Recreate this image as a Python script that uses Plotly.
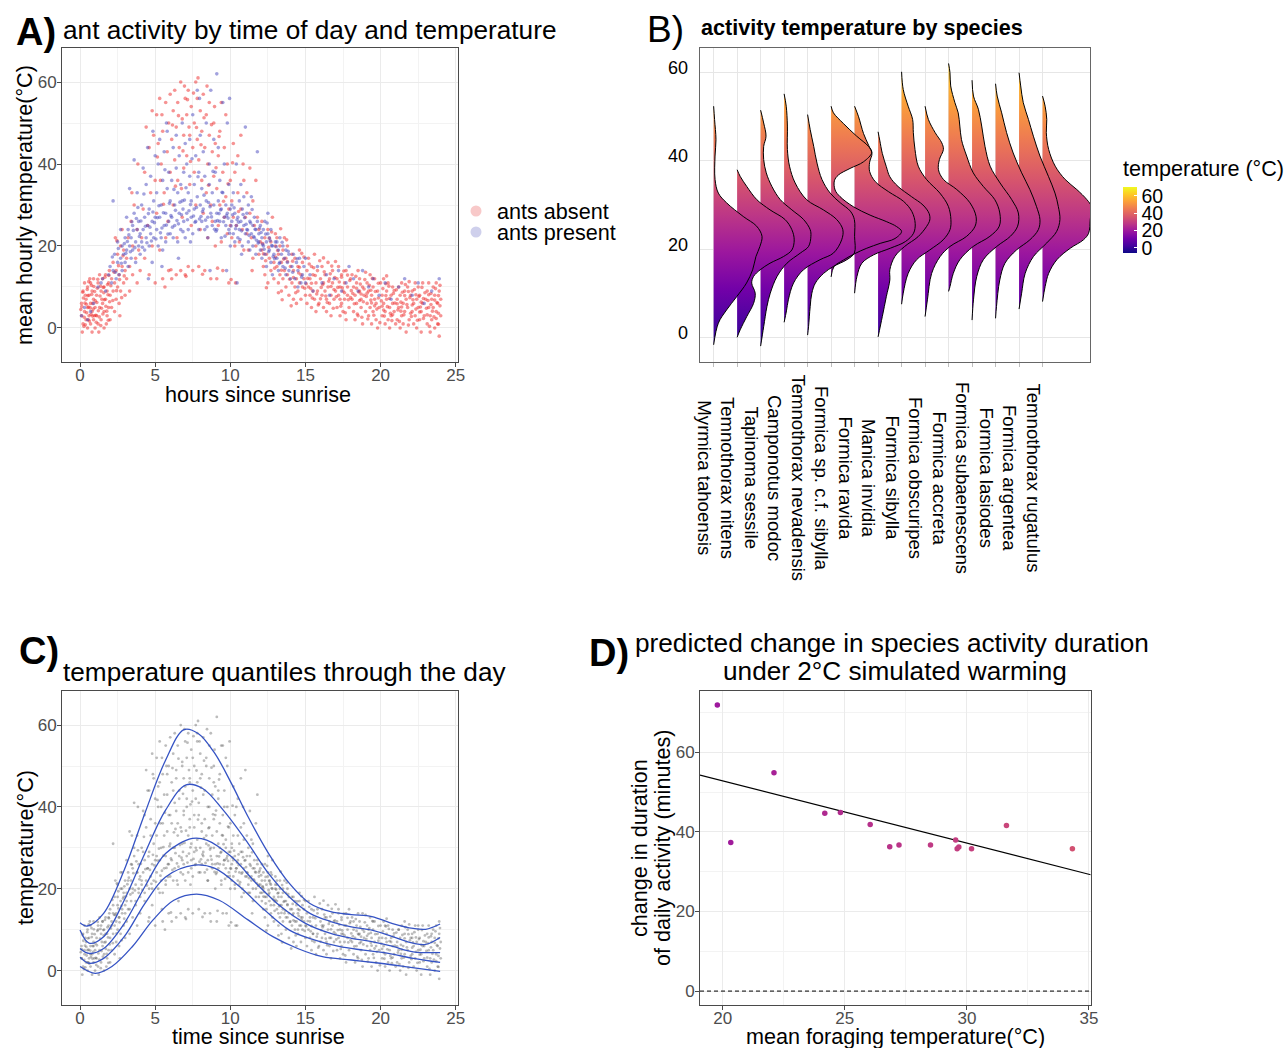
import numpy as np
import plotly.graph_objects as go
from plotly.colors import sample_colorscale

OFF = 0                      # body margin removed by post_script below
W, H = 1288, 1048
FONT = "Liberation Sans, Arial, Helvetica, sans-serif"

# ---------------- Panel A / C : hourly observations (hours since sunrise, temperature) -------------
absent_obs = [
    (0.1,3),(0.1,6),(0.2,1),(0.2,9),(0.3,4),(0.3,11),(0.4,2),(0.4,7),(0.5,0),(0.5,5),(0.5,10),(0.6,3),
    (0.6,8),(0.7,1),(0.7,6),(0.7,11),(0.8,-1),(0.8,4),(0.8,9),(0.9,2),(0.9,7),(0.9,12),(1.0,0),(1.0,5),
    (0.15,-1),(0.35,8),(0.55,2),(0.65,12),(0.85,6),(0.95,3),
    (0.05,4.5),(0.22,7.3),(0.28,2.6),(0.42,5.8),(0.48,9.4),(0.62,1.7),(0.68,4.9),(0.78,8.2),(0.83,2.9),
    (0.92,10.1),(1.02,6.6),(1.08,1.4),(1.15,9.7),(1.22,4.2),(1.33,7.8),(1.38,0.6),(1.52,3.4),(1.58,8.6),
    (1.66,12.4),(1.72,5.3),(1.83,10.6),(1.88,1.9),(1.97,6.4),(0.35,0.8),(0.58,11.3),
    (0.12,5.2),(0.18,8.7),(0.26,0.4),(0.33,6.1),(0.44,3.7),(0.52,7.9),(0.57,5.1),(0.73,3.3),(0.76,10.4),
    (0.88,4.6),(0.97,8.9),(1.05,3.1),(1.12,6.2),(1.18,11.9),(1.28,2.7),(1.36,10.2),(1.43,4.8),(1.55,9.9),
    (1.62,6.9),(1.78,4.1),(1.86,8.1),(1.92,12.8),
    (1.1,3),(1.1,8),(1.2,1),(1.2,11),(1.3,5),(1.3,13),(1.4,2),(1.4,9),(1.5,6),(1.5,12),(1.6,0),(1.6,4),
    (1.6,10),(1.7,7),(1.7,13),(1.8,3),(1.8,9),(1.9,5),(1.9,11),(2.0,2),(2.0,8),(1.25,-1),(1.45,7),(1.75,1),(1.95,14),
    (2.1,5),(2.1,12),(2.2,9),(2.2,16),(2.3,4),(2.3,11),(2.4,7),(2.4,14),(2.5,10),(2.5,18),(2.6,6),(2.6,13),
    (2.7,20),(2.7,9),(2.8,15),(2.8,24),(2.9,11),(2.9,19),(3.0,8),(3.0,14),(2.35,22),(2.65,3),
    (2.05,10.3),(2.18,6.7),(2.27,13.6),(2.43,9.1),(2.56,15.2),(2.63,11.8),(2.77,7.4),(2.86,17.6),(2.94,12.7),(2.45,21.3),
    (3.1,12),(3.1,17),(3.2,22),(3.3,9),(3.3,15),(3.4,26),(3.5,13),(3.5,20),(3.6,30),(3.7,17),(3.8,11),
    (3.8,24),(3.9,19),(4.0,14),(3.45,33),(3.85,40),
    (4.1,22),(4.2,29),(4.3,17),(4.3,38),(4.4,49),(4.5,25),(4.6,13),(4.6,44),(4.7,33),(4.8,20),(4.8,53),
    (4.9,47),(5.0,11),(5.0,36),
    (5.1,28),(5.1,52),(5.2,45),(5.3,19),(5.3,56),(5.4,40),(5.5,12),(5.5,48),(5.6,33),(5.7,55),(5.7,22),
    (5.8,43),(5.9,50),(5.9,14),(6.0,38),(6.0,57),(5.35,36),(5.65,10),(5.85,26),(5.45,52),
    (6.1,46),(6.1,12),(6.2,53),(6.2,30),(6.3,41),(6.3,58),(6.4,13),(6.4,49),(6.5,36),(6.5,55),(6.6,44),
    (6.7,60),(6.7,14),(6.8,51),(6.8,27),(6.9,39),(6.9,47),(7.0,56),(7.0,13),(6.45,22),(6.75,34),(6.95,59),
    (7.1,42),(7.1,52),(7.2,15),(7.2,58),(7.3,35),(7.3,47),(7.4,54),(7.4,25),(7.5,44),(7.5,14),(7.6,50),
    (7.6,38),(7.7,60),(7.7,30),(7.8,46),(7.8,56),(7.9,15),(7.9,41),(8.0,53),(8.0,24),(7.25,49),(7.85,61),
    (8.1,36),(8.1,48),(8.2,57),(8.2,28),(8.3,44),(8.3,14),(8.4,52),(8.4,33),(8.5,40),(8.5,22),(8.6,55),
    (8.6,47),(8.7,30),(8.7,12),(8.8,43),(8.8,26),(8.9,50),(8.9,37),(9.0,20),(9.0,45),(8.45,59),(8.95,54),
    (9.1,34),(9.1,12),(9.2,42),(9.2,25),(9.3,48),(9.3,30),(9.4,55),(9.4,21),(9.5,38),(9.5,14),(9.6,27),
    (9.6,44),(9.7,32),(9.7,52),(9.8,23),(9.8,40),(9.9,29),(9.9,11),(10.0,36),(10.0,25),
    (5.15,41.7),(5.55,30.2),(6.15,49.5),(6.35,34.6),(6.55,51.8),(6.85,43.2),(7.15,55.7),(7.35,40.6),
    (7.55,57.3),(7.75,48.9),(8.05,44.7),(8.25,51.3),(8.55,34.8),(8.75,49.6),(9.05,39.1),(9.25,46.7),
    (9.55,30.9),(9.85,35.2),(10.15,40.3),(10.55,28.4),(6.05,14.2),(7.05,12.6),(8.15,13.1),(10.05,11.8),(9.15,14.6),
    (10.1,22),(10.1,31),(10.2,45),(10.2,27),(10.3,20),(10.3,38),(10.4,25),(10.5,33),(10.5,42),(10.6,21),
    (10.7,29),(10.7,47),(10.8,24),(10.9,36),(10.9,19),(11.0,27),(10.35,11),(10.85,40),
    (11.1,23),(11.1,33),(11.2,19),(11.3,28),(11.3,39),(11.4,22),(11.5,17),(11.5,31),(11.6,25),(11.7,20),
    (11.7,36),(11.8,27),(11.9,18),(11.9,24),(12.0,21),(11.45,14),
    (12.1,19),(12.1,26),(12.2,15),(12.3,22),(12.3,13),(12.4,18),(12.5,24),(12.5,11),(12.6,17),(12.7,21),
    (12.7,14),(12.8,27),(12.9,16),(12.9,12),(13.0,20),(13.0,23),
    (12.15,20.6),(12.35,16.4),(12.55,19.7),(12.75,23.4),(12.95,14.6),(13.15,18.9),(13.35,24.2),(13.55,16.8),
    (13.75,21.5),(13.95,11.9),(14.15,16.3),(14.35,8.6),(14.55,13.4),(14.75,18.2),(14.95,9.7),(13.45,6.9),(14.05,5.4),
    (12.2,18.1),(12.6,21.9),(13.0,17.3),(13.4,14.1),(13.8,16.2),(14.2,12.3),(14.6,14.8),(14.9,17.3),(12.4,9.8),(13.2,8.6),
    (13.1,15),(13.1,22),(13.2,11),(13.2,18),(13.3,13),(13.3,20),(13.4,9),(13.4,16),(13.5,19),(13.5,12),
    (13.6,22),(13.6,14),(13.7,10),(13.7,17),(13.8,13),(13.8,20),(13.9,8),(14.0,15),
    (14.1,11),(14.1,18),(14.2,7),(14.2,14),(14.3,10),(14.3,17),(14.4,12),(14.4,6),(14.5,15),(14.5,9),
    (14.6,19),(14.6,11),(14.7,13),(14.7,7),(14.8,16),(14.8,10),(14.9,12),(15.0,8),
    (15.1,14),(15.1,6),(15.2,10),(15.2,17),(15.3,8),(15.3,12),(15.4,5),(15.4,15),(15.5,9),(15.5,13),
    (15.6,7),(15.6,18),(15.7,11),(15.7,4),(15.8,14),(15.8,9),(15.9,6),(16.0,12),
    (16.1,8),(16.1,15),(16.2,5),(16.2,11),(16.3,9),(16.3,13),(16.4,4),(16.4,7),(16.5,10),(16.5,16),
    (16.6,6),(16.6,12),(16.7,8),(16.7,3),(16.8,11),(16.8,14),(16.9,7),(17.0,9),
    (17.1,5),(17.1,12),(17.2,8),(17.2,15),(17.3,3),(17.3,10),(17.4,6),(17.4,13),(17.5,9),(17.5,4),
    (17.6,11),(17.6,7),(17.7,14),(17.7,2),(17.8,8),(17.8,10),(17.9,5),(18.0,12),
    (18.1,7),(18.1,13),(18.2,4),(18.2,10),(18.3,2),(18.3,8),(18.4,11),(18.4,6),(18.5,14),(18.5,3),
    (18.6,9),(18.6,12),(18.7,5),(18.7,7),(18.8,10),(18.8,1),(18.9,8),(19.0,4),
    (19.1,6),(19.1,11),(19.2,3),(19.2,9),(19.3,13),(19.3,5),(19.4,1),(19.4,8),(19.5,10),(19.5,4),
    (19.6,7),(19.6,12),(19.7,2),(19.7,6),(19.8,9),(19.8,0),(19.9,5),(20.0,11),
    (20.1,3),(20.1,8),(20.2,6),(20.2,12),(20.3,1),(20.3,4),(20.4,9),(20.4,7),(20.5,2),(20.5,11),
    (20.6,5),(20.6,0),(20.7,8),(20.7,3),(20.8,10),(20.8,6),(20.9,4),(21.0,1),
    (21.1,7),(21.1,2),(21.2,10),(21.2,5),(21.3,0),(21.3,8),(21.4,3),(21.4,11),(21.5,6),(21.5,1),
    (21.6,9),(21.6,4),(21.7,7),(21.7,-1),(21.8,5),(21.8,10),(21.9,2),(22.0,8),
    (22.1,4),(22.1,9),(22.2,1),(22.2,6),(22.3,11),(22.3,3),(22.4,7),(22.4,0),(22.5,5),(22.5,10),
    (22.6,2),(22.6,8),(22.7,4),(22.7,-1),(22.8,6),(22.8,11),(22.9,3),(23.0,7),
    (23.1,1),(23.1,9),(23.2,5),(23.2,11),(23.3,3),(23.3,-1),(23.4,7),(23.4,2),(23.5,10),(23.5,5),
    (23.6,0),(23.6,8),(23.7,4),(23.7,11),(23.8,1),(23.8,6),(23.9,9),(23.9,-2),(24.0,3),(24.0,7),
    (15.05,10.8),(15.25,15.6),(15.45,7.3),(15.65,12.8),(15.85,5.6),(15.95,16.4),(16.05,9.9),(16.25,13.7),
    (16.45,6.2),(16.55,11.4),(16.75,15.1),(16.85,4.8),(16.95,12.3),(17.05,7.6),(17.25,11.2),(17.35,5.3),
    (17.45,9.8),(17.55,13.9),(17.65,3.7),(17.85,6.9),(17.95,11.6),(18.05,9.1),(18.25,5.9),(18.35,12.6),
    (18.45,3.4),(18.55,8.8),(18.65,10.7),(18.75,2.6),(18.85,6.4),(18.95,11.8),(19.05,7.7),(19.15,2.2),
    (19.25,10.4),(19.35,6.8),(19.45,12.1),(19.55,3.1),(19.65,8.9),(19.75,4.6),(19.85,10.9),(19.95,1.3),
    (20.05,6.6),(20.15,9.6),(20.25,2.9),(20.35,7.9),(20.45,5.2),(20.55,10.2),(20.65,3.6),(20.75,1.8),
    (20.85,8.4),(20.95,6.1),(21.05,9.3),(21.15,4.4),(21.25,1.6),(21.35,6.3),(21.45,8.7),(21.55,3.2),
    (21.65,10.6),(21.75,5.7),(21.85,0.7),(21.95,7.4),(22.05,2.8),(22.15,6.9),(22.25,9.4),(22.35,4.6),
    (22.45,1.9),(22.55,7.7),(22.65,5.1),(22.75,9.9),(22.85,2.3),(22.95,8.6),(23.05,4.8),(23.15,6.7),
    (23.25,0.4),(23.35,8.4),(23.45,4.1),(23.55,2.7),(23.65,9.6),(23.75,6.2),(23.85,3.6),(23.95,10.4),
    (23.95,5.4),(23.85,0.9),
    (15.15,12.1),(15.35,9.6),(15.55,14.7),(15.75,8.3),(16.15,10.6),(16.35,7.8),(16.65,13.2),(16.9,9.4),
    (17.15,9.9),(17.4,12.4),(17.6,8.6),(17.8,12.9),(18.15,8.4),(18.4,9.7),(18.6,6.7),(18.9,9.5),
    (19.1,8.5),(19.35,9.2),(19.6,5.4),(19.85,7.3),(20.1,5.3),(20.35,10.8),(20.6,7.2),(20.9,9.1),
    (21.1,5.9),(21.35,4.1),(21.6,7.9),(21.85,8.9),(22.1,5.6),(22.35,8.1),(22.6,3.9),(22.85,7.2),
    (23.1,3.2),(23.35,5.7),(23.6,6.8),(23.85,7.9),(15.4,10.9),(16.0,7.1),(16.7,10.1),(17.3,7.0),
    (18.0,7.4),(18.7,8.3),(19.4,6.1),(20.2,4.4),(20.8,3.2),(21.4,5.1),(22.0,3.6),(22.7,6.3),
    (23.2,8.1),(23.7,2.3),(19.0,13.6),(20.4,12.7),(21.9,11.3),(17.0,16.2),(16.2,17.1),
]

present_obs = [
    (0.1,3),(0.3,5),(0.5,2),(0.7,4),(0.9,6),(1.2,10),(1.5,12),(1.7,9),(1.9,13),(1.4,11),
    (2.0,15),(2.1,11),(2.2,14),(2.2,31),(2.3,18),(2.4,12),(2.5,16),(2.5,21),(2.6,13),(2.7,17),(2.7,24),
    (2.8,14),(2.8,20),(2.9,18),(3.0,16),(3.0,22),
    (3.1,19),(3.1,27),(3.2,15),(3.2,24),(3.3,20),(3.3,34),(3.4,17),(3.4,22),(3.5,25),(3.5,19),(3.6,28),
    (3.6,41),(3.7,21),(3.7,16),(3.8,24),(3.8,33),(3.9,20),(3.9,26),(4.0,23),(4.0,18),
    (4.1,21),(4.1,30),(4.2,24),(4.2,39),(4.3,19),(4.3,27),(4.4,22),(4.4,35),(4.5,25),(4.5,44),(4.6,20),
    (4.6,29),(4.7,23),(4.7,37),(4.8,26),(4.8,16),(4.9,22),(4.9,31),(5.0,27),(5.0,42),(4.55,12),(4.85,48),
    (5.1,24),(5.1,33),(5.2,20),(5.2,40),(5.3,27),(5.3,46),(5.4,22),(5.4,30),(5.5,36),(5.5,19),(5.6,25),
    (5.6,43),(5.7,28),(5.7,21),(5.8,34),(5.8,48),(5.9,26),(5.9,38),(6.0,23),(6.0,31),(5.45,15),(5.75,50),
    (6.1,27),(6.1,36),(6.2,22),(6.2,44),(6.3,30),(6.3,25),(6.4,39),(6.4,47),(6.5,21),(6.5,33),(6.6,28),
    (6.6,42),(6.7,24),(6.7,35),(6.8,31),(6.8,50),(6.9,26),(6.9,38),(7.0,22),(7.0,45),(6.55,17),(6.85,29),
    (7.1,28),(7.1,40),(7.2,33),(7.2,24),(7.3,37),(7.3,46),(7.4,27),(7.4,31),(7.5,52),(7.5,23),(7.6,35),
    (7.6,29),(7.7,42),(7.7,26),(7.8,58),(7.8,32),(7.9,38),(7.9,24),(8.0,30),(8.0,47),(7.35,21),(7.95,56),
    (8.1,26),(8.1,34),(8.2,29),(8.2,43),(8.3,24),(8.3,37),(8.4,31),(8.4,50),(8.5,27),(8.5,22),(8.6,35),
    (8.6,40),(8.7,28),(8.7,58),(8.8,25),(8.8,33),(8.9,30),(8.9,46),(9.0,26),(9.0,38),(9.1,62),(8.65,14),
    (9.1,28),(9.1,24),(9.2,31),(9.2,44),(9.3,26),(9.3,36),(9.4,22),(9.4,29),(9.5,33),(9.5,55),(9.6,27),
    (9.6,40),(9.7,25),(9.7,30),(9.8,28),(9.8,50),(9.9,24),(9.9,35),(10.0,29),(10.0,20),(9.75,14),(9.95,56),
    (10.1,26),(10.1,30),(10.2,23),(10.2,33),(10.3,28),(10.3,21),(10.4,25),(10.4,40),(10.5,27),(10.5,22),
    (10.6,31),(10.6,24),(10.7,26),(10.7,35),(10.8,20),(10.8,29),(10.9,25),(10.9,32),(11.0,23),(11.0,49),
    (10.45,11),(10.75,18),
    (11.1,24),(11.1,28),(11.2,21),(11.2,30),(11.3,26),(11.3,19),(11.4,23),(11.4,32),(11.5,25),(11.5,20),
    (11.6,27),(11.6,22),(11.7,18),(11.7,24),(11.8,26),(11.8,43),(11.9,21),(11.9,23),(12.0,19),(12.0,25),
    (12.1,22),(12.1,17),(12.2,24),(12.2,20),(12.3,26),(12.3,18),(12.4,21),(12.4,15),(12.5,23),(12.5,28),
    (12.6,19),(12.6,22),(12.7,16),(12.7,24),(12.8,20),(12.8,13),(12.9,18),(13.0,21),
    (13.1,17),(13.1,21),(13.2,19),(13.2,14),(13.3,22),(13.3,16),(13.4,18),(13.5,15),(13.5,20),(13.6,17),
    (13.7,13),(13.7,19),(13.8,16),(13.9,14),(13.9,18),(14.0,12),
    (14.1,15),(14.2,18),(14.3,12),(14.4,16),(14.5,10),(14.5,14),(14.6,17),(14.7,11),(14.8,13),(14.9,15),
    (15.0,11),(15.0,17),
    (15.3,13),(15.5,9),(15.8,15),(16.1,11),(16.4,13),(16.6,8),(16.9,12),(17.2,14),(17.4,9),(17.7,11),
    (17.9,15),(18.2,12),
    (18.5,9),(18.8,14),(19.2,10),(19.5,12),(19.9,8),(20.3,11),(20.7,7),(21.2,10),(21.6,12),(22.1,8),
    (22.5,11),(22.9,6),(23.4,9),(23.9,12),
    (2.15,17.3),(2.35,13.6),(2.55,19.4),(2.75,15.8),(2.95,20.6),(3.05,18.2),(3.25,22.7),(3.45,25.9),
    (3.65,19.6),(3.85,29.4),(4.05,26.1),(4.25,32.7),(4.45,20.8),(4.65,24.6),(4.85,28.3),(5.05,21.7),
    (5.25,29.8),(5.45,24.4),(5.65,38.6),(5.85,22.9),(6.05,27.4),(6.25,33.8),(6.45,26.2),(6.65,30.7),
    (6.85,23.5),(7.05,34.2),(7.25,28.6),(7.45,41.3),(7.65,25.8),(7.85,36.9),(8.05,27.2),(8.25,32.4),
    (8.45,24.7),(8.65,29.6),(8.85,38.2),(9.05,23.6),(9.25,27.9),(9.45,33.1),(9.65,22.4),(9.85,26.8),
    (10.05,24.9),(10.25,29.3),(10.45,26.4),(10.65,21.6),(10.85,27.7),(11.05,25.3),(11.25,22.6),(11.45,28.9),
    (11.65,24.1),(11.85,20.7),(12.05,23.3),(12.25,19.2),(12.45,25.6),(12.65,21.3),(12.85,17.4),(13.05,19.8),
    (13.25,15.7),(13.45,20.9),(13.65,14.6),(13.85,18.7),(14.15,13.6),(14.45,16.9),(14.75,12.4),
    (3.15,21.1),(3.35,18.6),(3.55,23.8),(3.75,26.7),(3.95,22.3),(4.15,19.7),(4.35,24.8),(4.55,27.9),
    (4.75,21.2),(4.95,25.7),(5.15,26.9),(5.35,23.2),(5.55,28.1),(5.75,25.1),(5.95,30.4),(6.15,24.6),
    (6.35,28.7),(6.55,25.4),(6.75,27.6),(6.95,31.2),(7.15,26.4),(7.35,30.1),(7.55,27.3),(7.75,29.4),
    (7.95,26.6),(8.15,28.4),(8.35,26.3),(8.55,30.6),(8.75,27.1),(8.95,24.1),(9.15,26.2),(9.35,28.8),
    (9.55,25.9),(9.75,27.4),(9.95,23.1),(10.15,27.6),(10.35,24.2),(10.55,25.8),(10.75,23.7),(10.95,26.9),
    (11.15,23.9),(11.35,25.6),(11.55,22.3),(11.75,21.4),(11.95,24.4),(12.15,20.4),(12.35,22.9),(12.55,18.6),
    (12.75,20.1),(12.95,16.9),
]

# ---------------- Panel B : half-violin outlines per species, (temperature, relative width) ----------
species = ["Myrmica tahoensis", "Temnothorax nitens", "Tapinoma sessile", "Camponotus modoc",
           "Temnothorax nevadensis", "Formica sp. c.f. sibylla", "Formica ravida", "Manica invidia",
           "Formica sibylla", "Formica obscuripes", "Formica accreta", "Formica subaenescens",
           "Formica lasiodes", "Formica argentea", "Temnothorax rugatulus"]

ridge_myrmica_tahoensis = [(52.4,0),(49.4,0.04),(44.8,0.10),(41.1,0.06),(35.8,0.06),(32.7,0.2),(30.5,0.55),
    (27.4,1.26),(25.2,1.83),(22.9,2.06),(20.6,1.97),(18.3,1.80),(15.3,1.66),(12.3,1.40),(9.2,0.98),
    (6.2,0.55),(3.2,0.2),(-1.7,0)]
ridge_temnothorax_nitens = [(38.0,0),(36.5,0.13),(34.2,0.41),(31.2,0.84),(28.9,1.40),(26.7,2.04),(24.4,2.33),
    (22.1,2.43),(19.8,2.33),(18.3,1.97),(16.8,1.40),(15.3,0.98),(13.8,0.70),(12.3,0.62),(10.0,0.77),
    (7.7,0.70),(4.7,0.41),(1.7,0.13),(0.0,0)]
ridge_tapinoma_sessile = [(51.5,0),(48.6,0.13),(45.6,0.23),(43.3,0.13),(40.3,0.13),(37.3,0.24),(34.2,0.48),
    (31.2,0.84),(28.9,1.33),(26.7,1.83),(24.4,2.11),(22.9,2.14),(20.6,2.04),(19.1,1.69),(16.8,1.12),
    (13.8,0.70),(10.0,0.41),(7.0,0.27),(2.4,0.13),(-2.0,0)]
ridge_camponotus_modoc = [(55.2,0),(52.4,0.09),(47.9,0.14),(42.6,0.14),(38.8,0.23),(35.0,0.47),(31.2,0.96),
    (28.9,1.67),(26.7,2.24),(24.4,2.50),(22.1,2.45),(19.1,2.10),(17.6,1.53),(15.3,0.82),(12.3,0.40),
    (8.5,0.18),(6.0,0.10),(3.4,0)]
ridge_temnothorax_nevadensis = [(50.5,0),(47.1,0.11),(43.3,0.26),(39.5,0.40),(35.8,0.61),(32.7,0.96),
    (30.5,1.39),(28.6,1.82),(26.7,1.99),(22.9,2.0),(19.1,1.99),(17.6,1.67),(16.1,1.11),(14.5,0.68),
    (12.3,0.33),(10.0,0.18),(7.0,0.11),(2.4,0.04),(0.5,0)]
ridge_formica_sp_cf_sibylla = [(52.4,0),(50.9,0.10),(48.5,0.52),(45.6,1.09),(43.3,1.59),(41.9,1.73),
    (39.8,1.38),(38.3,0.81),(36.8,0.31),(35.5,0.14),(33.4,0.17),(31.9,0.38),(29.6,0.95),(27.7,1.66),
    (26.2,2.37),(25.1,2.79),(24.0,3.0),(22.4,2.72),(21.3,2.09),(20.2,1.52),(19.0,1.02),(17.5,0.52),
    (16.0,0.12),(13.7,0)]
ridge_formica_ravida = [(52.4,0),(50.0,0.17),(46.2,0.38),(43.5,0.60),(41.7,0.74),(39.7,0.64),(37.6,0.64),
    (35.3,0.88),(33.0,1.45),(30.8,2.09),(28.5,2.44),(25.8,2.58),(23.6,2.51),(21.7,2.16),(20.2,1.52),
    (18.7,0.81),(16.8,0.31),(13.8,0.10),(10.0,0)]
ridge_manica_invidia = [(46.6,0),(44.7,0.07),(41.7,0.18),(38.7,0.35),(36.4,0.50),(34.2,0.85),(31.9,1.42),
    (30.0,1.91),(28.1,2.17),(26.6,2.20),(25.1,2.06),(22.8,1.70),(20.6,1.13),(18.3,0.71),(15.3,0.50),
    (13.0,0.50),(9.2,0.35),(4.7,0.18),(0.1,0)]
ridge_formica_sibylla = [(60.2,0),(56.2,0.07),(52.4,0.28),(49.4,0.47),(46.4,0.50),(42.6,0.57),(38.8,0.71),
    (35.8,1.06),(32.7,1.63),(29.7,1.99),(26.7,2.10),(24.4,2.06),(22.1,1.77),(19.8,1.20),(17.6,0.64),
    (14.5,0.28),(10.0,0.07),(7.5,0)]
ridge_formica_obscuripes = [(52.4,0),(49.4,0.14),(46.4,0.43),(44.1,0.71),(42.6,0.78),(40.3,0.61),(38.0,0.57),
    (35.8,0.78),(33.5,1.35),(30.5,1.91),(27.4,2.17),(25.2,2.13),(22.9,1.77),(20.6,1.06),(18.3,0.64),
    (14.5,0.28),(8.5,0.10),(4.7,0)]
ridge_formica_accreta = [(62.1,0),(60.0,0.06),(57.0,0.09),(53.2,0.27),(50.9,0.41),(47.9,0.48),(44.8,0.55),
    (41.1,0.77),(37.3,1.05),(34.2,1.48),(31.2,1.97),(28.2,2.18),(25.2,2.16),(22.9,1.76),(20.6,1.05),
    (17.6,0.48),(14.5,0.20),(11.5,0.06),(10.4,0)]
ridge_formica_subaenescens = [(58.3,0),(54.7,0.06),(51.7,0.27),(47.9,0.41),(43.3,0.55),(38.8,0.77),
    (35.0,1.19),(31.2,1.69),(28.2,1.97),(25.2,1.94),(22.9,1.63),(20.6,1.05),(17.6,0.48),(13.8,0.20),
    (8.5,0.06),(3.9,0)]
ridge_formica_lasiodes = [(57.5,0),(54.7,0.07),(50.9,0.26),(46.4,0.47),(41.8,0.75),(37.3,1.11),(33.5,1.46),
    (29.7,1.74),(26.7,1.89),(24.4,1.82),(22.1,1.46),(19.8,0.89),(16.8,0.40),(13.0,0.18),(7.0,0.04),(4.3,0)]
ridge_formica_argentea = [(60.0,0),(57.0,0.07),(53.2,0.18),(49.4,0.40),(45.6,0.61),(41.1,0.89),(36.5,1.25),
    (32.7,1.53),(29.7,1.67),(26.7,1.74),(24.0,1.60),(21.4,1.18),(18.3,0.61),(14.5,0.26),(10.0,0.11),(6.4,0)]
ridge_temnothorax_rugatulus = [(54.7,0),(52.4,0.11),(49.4,0.18),(46.4,0.16),(42.6,0.26),(38.8,0.54),
    (35.8,0.96),(33.5,1.46),(31.2,1.89),(29.7,2.07),(26.7,2.03),(23.6,1.96),(22.1,1.74),(20.2,1.18),
    (17.6,0.61),(14.5,0.26),(11.5,0.11),(8.1,0)]

ridges = [ridge_myrmica_tahoensis, ridge_temnothorax_nitens, ridge_tapinoma_sessile, ridge_camponotus_modoc,
          ridge_temnothorax_nevadensis, ridge_formica_sp_cf_sibylla, ridge_formica_ravida, ridge_manica_invidia,
          ridge_formica_sibylla, ridge_formica_obscuripes, ridge_formica_accreta, ridge_formica_subaenescens,
          ridge_formica_lasiodes, ridge_formica_argentea, ridge_temnothorax_rugatulus]
temp_scale_min, temp_scale_max = -6, 70
temp_ticks = [0, 20, 40, 60]

# ---------------- Panel C : fitted temperature quantile curves (hours, temperature) ----------------
quantile_upper = [(0,11.7),(0.47,10.9),(1.57,14.0),(2.94,24.6),(4.31,38.4),(5.69,51.4),(6.92,58.9),
    (7.88,57.9),(8.98,53.0),(10.08,45.7),(11.18,37.6),(12.55,28.6),(13.93,21.3),(15.3,16.4),(16.68,14.4),
    (18.05,13.7),(19.42,13.2),(20.8,11.5),(22.17,10.3),(23.0,10.1),(23.96,11.4)]
quantile_upper_mid = [(0,9.9),(0.6,6.7),(1.57,8.3),(2.94,17.2),(4.31,28.6),(5.69,39.2),(7.06,45.4),
    (8.16,44.5),(9.53,39.2),(11.18,31.1),(12.55,23.7),(13.93,18.0),(15.3,14.0),(16.68,12.0),(18.05,10.7),
    (19.42,9.9),(20.8,8.3),(22.17,6.7),(23.0,6.4),(23.96,8.1)]
quantile_median = [(0,5.4),(0.6,4.2),(1.57,5.4),(2.94,11.5),(4.31,20.5),(5.69,28.6),(7.47,32.3),
    (8.43,31.9),(10.08,27.8),(11.73,21.3),(13.38,15.6),(15.03,11.5),(16.68,9.1),(18.05,7.9),(19.42,7.1),
    (20.8,5.9),(22.17,4.6),(23.96,4.4)]
quantile_lower_mid = [(0,3.3),(0.6,1.8),(1.57,3.0),(2.94,8.3),(4.31,16.4),(5.69,22.9),(7.61,25.8),
    (8.98,25.0),(10.63,20.5),(12.28,14.8),(13.93,9.9),(15.58,7.5),(17.23,5.9),(18.87,5.0),(20.52,4.2),
    (22.17,3.0),(23.96,2.0)]
quantile_lower = [(0,1.0),(1.02,-0.65),(2.12,1.0),(3.49,5.9),(4.86,12.4),(6.24,17.2),(7.75,18.7),
    (9.26,17.2),(11.18,12.4),(12.83,8.3),(14.48,5.4),(16.13,3.4),(18.05,2.6),(19.97,1.8),(21.62,1.0),
    (23.96,-0.2)]
quantile_curves = [quantile_upper, quantile_upper_mid, quantile_median, quantile_lower_mid, quantile_lower]

# ---------------- Panel D : species mean foraging temperature vs change in activity ----------------
d_mean_temp = [19.78, 20.33, 22.10, 24.18, 24.82, 26.04, 26.84, 27.22, 28.51, 29.54, 29.60, 29.67, 30.19, 31.62, 34.32]
d_change_min = [71.9, 37.35, 54.9, 44.7, 44.9, 41.9, 36.3, 36.7, 36.7, 38.0, 35.8, 36.2, 35.8, 41.6, 35.8]
d_reference = 0

# ---------------- axis ranges ----------------
A_XR, A_YR = [-1.2, 25.15], [-8.3, 68.3]
B_XR, B_YR = [0.42, 17.02], [-5.6, 65.6]
C_XR, C_YR = [-1.2, 25.15], [-8.4, 68.4]
D_XR, D_YR = [19.07, 35.07], [-3.5, 75.5]


def px(v):
    return (v - OFF) / W


def py(v):
    return 1 - (v - OFF) / H


def dom_x(a, b):
    return [px(a), px(b)]


def dom_y(top, bottom):
    return [py(bottom), py(top)]


GRID = "#ebebeb"
MINOR = "#f3f3f3"


def std_axis(domain, rng, dtick, mdtick, anchor, is_x, tick0=0):
    return dict(domain=domain, range=rng, dtick=dtick, tick0=tick0, showgrid=True, gridcolor=GRID,
                gridwidth=1.1, minor=dict(dtick=mdtick, tick0=tick0, showgrid=True, gridcolor=MINOR,
                                          gridwidth=0.6, ticks=""),
                zeroline=False, showline=True, mirror=True, linecolor="#4a4a4a", linewidth=1,
                ticks="outside", ticklen=4, tickcolor="#4a4a4a", tickwidth=1,
                ticklabelstandoff=-6 if is_x else -3,
                tickfont=dict(size=17, color="#4d4d4d", family=FONT), anchor=anchor)


fig = go.Figure()

# ---- Panel A scatter
ax_h, ax_t = zip(*absent_obs)
ap_h, ap_t = zip(*present_obs)
fig.add_trace(go.Scatter(x=ax_h, y=ax_t, mode="markers", xaxis="x", yaxis="y", hoverinfo="skip",
                         marker=dict(size=3.6, color="rgba(238,40,40,0.5)", line=dict(width=0)), showlegend=False))
fig.add_trace(go.Scatter(x=ap_h, y=ap_t, mode="markers", xaxis="x", yaxis="y", hoverinfo="skip",
                         marker=dict(size=3.6, color="rgba(70,70,190,0.5)", line=dict(width=0)), showlegend=False))

# ---- Panel C scatter + quantile curves
fig.add_trace(go.Scatter(x=list(ax_h) + list(ap_h), y=list(ax_t) + list(ap_t), mode="markers",
                         xaxis="x3", yaxis="y3", hoverinfo="skip",
                         marker=dict(size=2.8, color="rgba(80,80,80,0.38)", line=dict(width=0)), showlegend=False))
for q in quantile_curves:
    qh, qt = zip(*q)
    fig.add_trace(go.Scatter(x=qh, y=qt, mode="lines", xaxis="x3", yaxis="y3", hoverinfo="skip",
                             line=dict(color="#3553c4", width=1.3, shape="spline"), showlegend=False))

# ---- Panel B fills (gradient by temperature) then outlines
for i, ridge in enumerate(ridges, start=1):
    rt, rw = zip(*ridge)
    fig.add_trace(go.Scatter(x=[i + w for w in rw], y=rt, mode="lines", fill="toself",
                             line=dict(width=0, shape="spline"), xaxis="x2", yaxis="y2", hoverinfo="skip",
                             fillgradient=dict(type="vertical", colorscale="Plasma",
                                               start=temp_scale_min, stop=temp_scale_max),
                             showlegend=False))
for i, ridge in enumerate(ridges, start=1):
    rt, rw = zip(*ridge)
    fig.add_trace(go.Scatter(x=[i + w for w in rw], y=rt, mode="lines", xaxis="x2", yaxis="y2",
                             hoverinfo="skip", line=dict(color="black", width=1, shape="spline"),
                             showlegend=False))
# colour bar
fig.add_trace(go.Scatter(x=[None], y=[None], mode="markers", xaxis="x2", yaxis="y2", showlegend=False,
                         marker=dict(color=[0], colorscale="Plasma", cmin=temp_scale_min, cmax=temp_scale_max,
                                     showscale=True,
                                     colorbar=dict(title=dict(text="temperature (°C)", side="top",
                                                              font=dict(size=21.6, color="black", family=FONT)),
                                                   x=px(1123), xanchor="left", y=py(253), yanchor="bottom",
                                                   len=96, lenmode="pixels", thickness=14,
                                                   thicknessmode="pixels", tickvals=temp_ticks,
                                                   tickfont=dict(size=19.5, color="black", family=FONT),
                                                   ticks="inside", ticklen=3, tickcolor="white",
                                                   outlinewidth=0, xpad=0, ypad=0))))

# ---- Panel D
d_colors = sample_colorscale("Plasma", [(v - temp_scale_min) / (temp_scale_max - temp_scale_min) for v in d_mean_temp])
slope, intercept = np.polyfit(d_mean_temp, d_change_min, 1)
fig.add_trace(go.Scatter(x=D_XR, y=[intercept + slope * v for v in D_XR], mode="lines", xaxis="x4",
                         yaxis="y4", line=dict(color="black", width=1.1), hoverinfo="skip", showlegend=False))
fig.add_trace(go.Scatter(x=d_mean_temp, y=d_change_min, mode="markers", xaxis="x4", yaxis="y4",
                         marker=dict(size=5.5, color=d_colors, line=dict(width=0)), showlegend=False))

shapes = [dict(type="line", xref="x4 domain", yref="y4", x0=0, x1=1, y0=d_reference, y1=d_reference,
               line=dict(color="black", width=1, dash="4px,3px"))]
# legend swatches for panel A
shapes.append(dict(type="circle", xref="paper", yref="paper", x0=px(470.5), x1=px(481.5), y0=py(216.5),
                   y1=py(205.5), fillcolor="#f8c9c9", line=dict(width=0)))
shapes.append(dict(type="circle", xref="paper", yref="paper", x0=px(470.5), x1=px(481.5), y0=py(237.5),
                   y1=py(226.5), fillcolor="#cfd0ec", line=dict(width=0)))

ann = []


def text(t, x, y, size, xanchor="left", bold=False, angle=0, color="black"):
    s = f"<b>{t}</b>" if bold else t
    ann.append(dict(text=s, x=px(x), y=py(y), xref="paper", yref="paper", xanchor=xanchor, yanchor="middle",
                    showarrow=False, textangle=angle, font=dict(size=size, color=color, family=FONT)))


# tags and titles
text("A)", 14, 32, 38, bold=True)
text("ant activity by time of day and temperature", 61, 30, 26.2)
text("B)", 645, 30, 37)
text("activity temperature by species", 699, 28, 21.6, bold=True)
text("C)", 17, 651, 38, bold=True)
text("temperature quantiles through the day", 61, 672, 26.2)
text("D)", 587, 653, 38, bold=True)
text("predicted change in species activity duration", 892, 643, 26.2, xanchor="center")
text("under 2°C simulated warming", 895, 671, 26.2, xanchor="center")
# axis titles
text("mean hourly temperature(°C)", 25, 205, 21.6, xanchor="center", angle=-90)
text("hours since sunrise", 258, 394.5, 21.6, xanchor="center")
text("temperature(°C)", 25, 848, 21.6, xanchor="center", angle=-90)
text("time since sunrise", 258, 1036, 21.6, xanchor="center")
text("change in duration", 639, 848, 21.6, xanchor="center", angle=-90)
text("of daily activity (minutes)", 662, 848, 21.6, xanchor="center", angle=-90)
text("mean foraging temperature(°C)", 895, 1036, 21.6, xanchor="center")
# legend text
text("ants absent", 495, 211, 21.6)
text("ants present", 495, 232, 21.6)

# panel B tick labels and species labels
for v in temp_ticks:
    ann.append(dict(text=str(v), x=px(690), xref="paper", y=v, yref="y2", xanchor="right", yanchor="middle",
                    yshift=4.5, showarrow=False, font=dict(size=18, color="black", family=FONT)))
for i, name in enumerate(species, start=1):
    ann.append(dict(text=name, x=i, xref="x2", xshift=-9, y=py(478), yref="paper", xanchor="center",
                    yanchor="middle", textangle=90, showarrow=False,
                    font=dict(size=18.6, color="black", family=FONT)))

layout = dict(
    width=W, height=H, autosize=False, margin=dict(l=0, r=0, t=0, b=0, pad=0, autoexpand=False),
    paper_bgcolor="white", plot_bgcolor="white", showlegend=False,
    font=dict(family=FONT, color="black"),
    xaxis=std_axis(dom_x(62, 458), A_XR, 5, 2.5, "y", True),
    yaxis=std_axis(dom_y(48, 362), A_YR, 20, 10, "x", False),
    xaxis3=std_axis(dom_x(62, 458), C_XR, 5, 2.5, "y3", True),
    yaxis3=std_axis(dom_y(690.7, 1005), C_YR, 20, 10, "x3", False),
    xaxis4=std_axis(dom_x(700, 1090.7), D_XR, 5, 2.5, "y4", True, tick0=20),
    yaxis4=std_axis(dom_y(690.7, 1005), D_YR, 20, 10, "x4", False),
    xaxis2=dict(domain=dom_x(700, 1090), range=B_XR, tickvals=list(range(1, len(species) + 1)),
                showticklabels=False, showgrid=True, gridcolor="#e6e6e6", gridwidth=1, zeroline=False,
                showline=True, mirror=True, linecolor="#666666", linewidth=1, ticks="outside", ticklen=4,
                tickcolor="#bdbdbd", anchor="y2"),
    yaxis2=dict(domain=dom_y(48, 362), range=B_YR, tickvals=temp_ticks, showticklabels=False, showgrid=True,
                gridcolor="#e6e6e6", gridwidth=1, zeroline=False, showline=True, mirror=True,
                linecolor="#666666", linewidth=1, ticks="", anchor="x2"),
    shapes=shapes, annotations=ann,
)
fig.update_layout(**layout)
fig.write_html("out.html", config={"displayModeBar": False},
               post_script="document.body.style.margin='0';document.body.style.overflow='hidden';")
